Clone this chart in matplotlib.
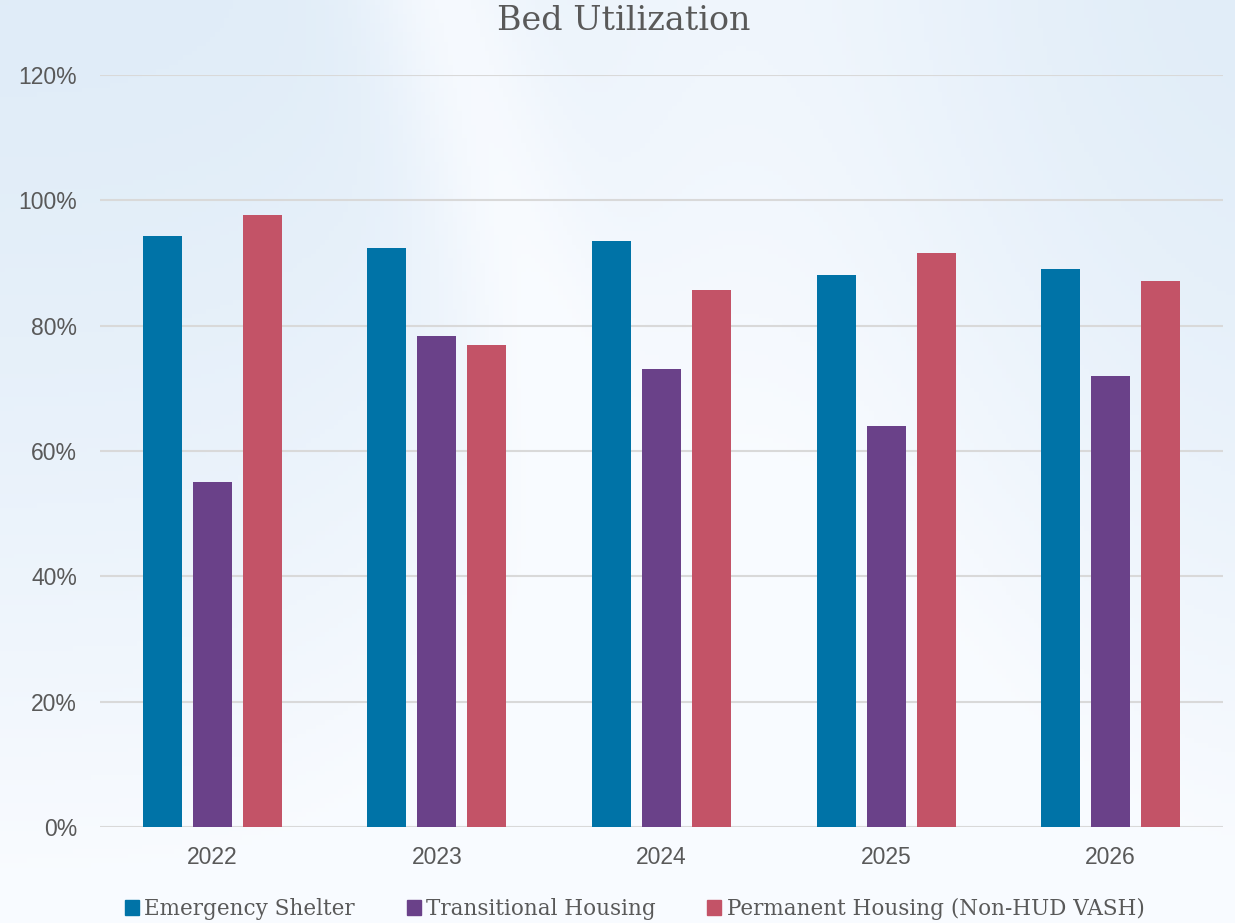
import matplotlib
matplotlib.use("Agg")
import matplotlib.pyplot as plt
import numpy as np
from matplotlib.patches import Patch

years = ["2022", "2023", "2024", "2025", "2026"]
series_names = ["Emergency Shelter", "Transitional Housing", "Permanent Housing (Non-HUD VASH)"]
emergency = [94.3, 92.4, 93.5, 88.1, 89.0]
transitional = [55.0, 78.3, 73.1, 64.0, 72.0]
permanent = [97.7, 76.9, 85.7, 91.6, 87.1]
colors = ["#0073A7", "#6A4189", "#C35367"]
yticks = [0, 20, 40, 60, 80, 100, 120]

fig = plt.figure(figsize=(12.35, 9.23), dpi=100)

# background gradient
bg = fig.add_axes([0, 0, 1, 1], zorder=-10)
h, w = 200, 270
yy, xx = np.mgrid[0:1:h*1j, 0:1:w*1j]
base = np.array([0.80, 0.88, 0.95])
white = np.array([0.975, 0.985, 1.0])
t = 0.45 + 0.35 * np.exp(-((xx - 0.6) ** 2) / 0.06)
swirl = np.exp(-((xx - 0.36 - 0.2 * yy) ** 2) / 0.004) * 0.35 * (1 - yy)
t = np.clip(t + swirl + 0.6 * yy ** 1.5, 0, 1)
img = base[None, None, :] * (1 - t[..., None]) + white[None, None, :] * t[..., None]
bg.imshow(img, extent=[0, 1, 0, 1], aspect="auto", origin="upper")
bg.axis("off")

ax = fig.add_axes([100/1235, 1 - 827/923, 1123/1235, 752/923])
ax.patch.set_alpha(0)
x = np.arange(len(years))
width = 0.174
step = 0.2226
for i, (vals, c) in enumerate(zip([emergency, transitional, permanent], colors)):
    ax.bar(x + (i - 1) * step, vals, width, color=c, zorder=3)

ax.set_xlim(-0.5, len(years) - 0.5)
ax.set_ylim(0, 120)
ax.set_yticks(yticks)
ax.set_yticklabels([f"{v}%" for v in yticks], fontfamily="Liberation Sans", fontsize=16.5, color="#595959")
ax.set_xticks(x)
ax.set_xticklabels(years, fontfamily="Liberation Sans", fontsize=16.5, color="#595959")
ax.tick_params(length=0)
ax.tick_params(axis="x", pad=14)
ax.tick_params(axis="y", pad=16.5)
ax.grid(axis="y", color="#d9d9d9", linewidth=1.5, zorder=0)
for s in ax.spines.values():
    s.set_visible(False)

fig.text(0.505, 1 - 21/923, "Bed Utilization", ha="center", va="center",
         fontfamily="DejaVu Serif", fontsize=24, color="#595959")

handles = [Patch(color=c) for c in colors]
fig.legend(handles, series_names, loc="center", bbox_to_anchor=(0.514, 1 - 909/923), ncol=3,
           frameon=False, prop={"family": "DejaVu Serif", "size": 15.5}, labelcolor="#595959",
           handlelength=0.65, handleheight=0.65, handletextpad=0.25, columnspacing=2.4)

fig.savefig("out.png", dpi=100)
